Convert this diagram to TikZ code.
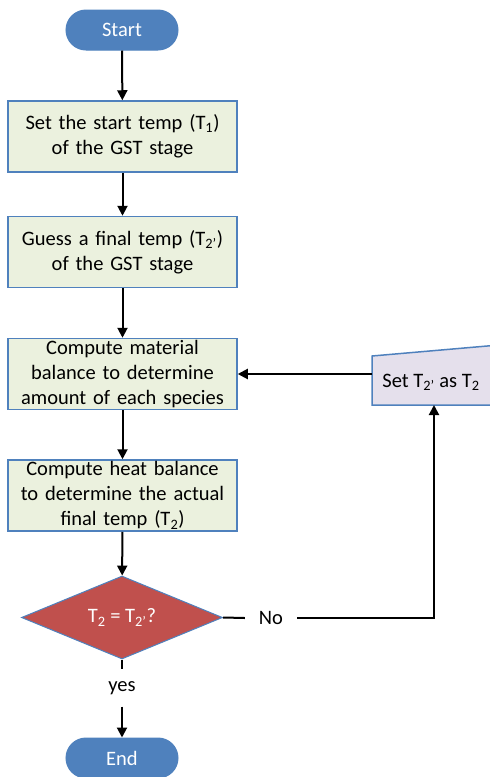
\documentclass[tikz,border=0pt]{standalone}
\usepackage{fontspec}
\setmainfont{Carlito}
\usetikzlibrary{shapes.geometric,arrows.meta}
\definecolor{acc}{HTML}{4F81BD}
\definecolor{boxg}{HTML}{EBF1DE}
\definecolor{dred}{HTML}{C0504D}
\definecolor{lav}{HTML}{E5E0EC}
\begin{document}
\begin{tikzpicture}[x=1pt,y=-1pt,
  font=\fontsize{20.5}{25}\selectfont,
  term/.style={rectangle, rounded corners=20pt, fill=acc, draw=acc, line width=1pt,
    minimum width=112pt, minimum height=40pt, inner sep=0pt, text=white},
  proc/.style={rectangle, draw=acc, line width=1.5pt, fill=boxg,
    minimum width=229pt, minimum height=71pt, text width=225pt, align=center, inner sep=0pt},
  dec/.style={diamond, fill=dred, draw=acc, line width=1pt, aspect=2.42,
    minimum width=201pt, minimum height=83pt, inner sep=0pt, text=white},
  lbl/.style={inner sep=0pt},
  conn/.style={line width=2pt, -{Triangle[length=10pt,width=10pt]}},
  plain/.style={line width=2pt}
]
\useasboundingbox (0,0) rectangle (490,777);
\clip (0,0) rectangle (490,777);
\node[term] (start) at (122,30) {Start};
\node[proc] (b1) at (122.5,136.5) {Set the start temp (T\textsubscript{1})\\of the GST stage};
\node[proc] (b2) at (122.5,252) {Guess a final temp (T\textsubscript{2’})\\of the GST stage};
\node[proc] (b3) at (122.5,374) {Compute material\\balance to determine\\amount of each species};
\node[proc] (b4) at (122.5,495.5) {Compute heat balance\\to determine the actual\\final temp (T\textsubscript{2})};
\node[dec] (d) at (122,617.5) {T\textsubscript{2} = T\textsubscript{2’}?};
\node[lbl, minimum height=37pt] (yes) at (122,688) {yes};
\node[term] (e) at (122,758) {End};
\node[lbl, minimum width=52pt] (no) at (271,618) {No};
\draw[fill=lav, draw=acc, line width=1.5pt] (372,356) -- (493,345.5) -- (493,405) -- (372,405) -- cycle;
\node[lbl] (tptext) at (431,382) {Set T\textsubscript{2’} as T\textsubscript{2}};
\coordinate (tpl) at (372,374);
\coordinate (tpb) at (434,405);
\draw[conn] (start) -- (b1);
\draw[conn] (b1) -- (b2);
\draw[conn] (b2) -- (b3);
\draw[conn] (b3) -- (b4);
\draw[conn] (b4) -- (d);
\draw[plain] (d.south) -- (yes.north);
\draw[conn] (yes.south) -- (e.north);
\draw[plain] (d.east) -- (no.west);
\draw[conn] (no.east) -| (tpb);
\draw[conn] (tpl) -- (b3.east);
\end{tikzpicture}
\end{document}
